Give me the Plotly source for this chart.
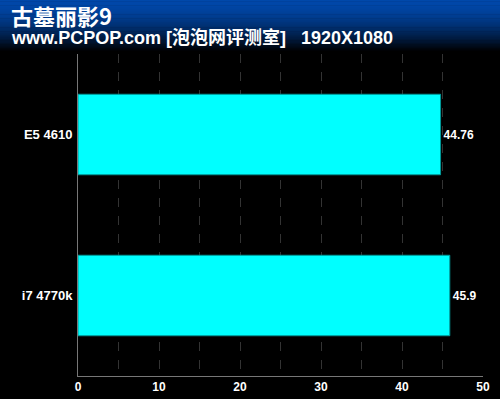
import plotly.graph_objects as go

categories = ["E5 4610", "i7 4770k"]
values = [44.76, 45.9]
value_labels = ["44.76", "45.9"]
title = "古墓丽影9"
subtitle = "www.PCPOP.com [泡泡网评测室]   1920X1080"

L, R, T, B = 78, 17, 54, 23
W, H = 500, 399
pw = W - L - R
ph = H - T - B

fig = go.Figure()
fig.add_trace(go.Bar(
    y=categories, x=values, orientation="h",
    marker=dict(color="#00FFFF", line=dict(color="#009999", width=1)),
    width=0.5,
    text=value_labels, textposition="outside",
    textfont=dict(color="white", size=12, family="Liberation Sans", weight="bold"),
    cliponaxis=False,
))

# header gradient (blue to black)
n = 40
HH = 52.0
shapes = []
for i in range(n):
    t = i / (n - 1)
    f = max(0.0, 1 - t ** 1.6)
    r, g, b = 0, int(72 * f), int(170 * f)
    y_top = i * HH / n
    y_bot = (i + 1) * HH / n + 0.5
    shapes.append(dict(type="rect", xref="paper", yref="paper",
                       x0=-L / pw, x1=(W - L) / pw,
                       y0=(H - B - y_bot) / ph, y1=(H - B - y_top) / ph,
                       fillcolor=f"rgb({r},{g},{b})", line=dict(width=0), layer="below"))

fig.update_layout(
    width=W, height=H,
    margin=dict(l=L, r=R, t=T, b=B, autoexpand=False),
    paper_bgcolor="black", plot_bgcolor="black",
    showlegend=False,
    shapes=shapes,
    xaxis=dict(range=[0, 50], tickvals=[0, 10, 20, 30, 40, 50], automargin=False,
               showgrid=True, gridcolor="#333333", griddash="dash", gridwidth=1,
               minor=dict(dtick=5, showgrid=True, gridcolor="#333333", griddash="dash"),
               showline=True, linecolor="#777777", linewidth=1,
               zeroline=False,
               tickfont=dict(color="white", size=12, family="Liberation Sans", weight="bold"),
               ticks="", fixedrange=True),
    yaxis=dict(autorange="reversed", showline=True, linecolor="#777777", linewidth=1,
               automargin=False,
               showgrid=False, zeroline=False, ticks="", ticklabelstandoff=2,
               tickfont=dict(color="white", size=13, family="Liberation Sans", weight="bold")),
    annotations=[
        dict(text=title, xref="paper", yref="paper", x=-(L - 9) / pw, y=(H - B - 15.5) / ph,
             xanchor="left", yanchor="middle", showarrow=False,
             font=dict(color="white", size=22, family="Noto Sans CJK SC", weight="bold")),
        dict(text=subtitle, xref="paper", yref="paper", x=-(L - 9) / pw, y=(H - B - 38) / ph,
             xanchor="left", yanchor="middle", showarrow=False,
             font=dict(color="white", size=18, family="Liberation Sans, Noto Sans CJK SC", weight="bold")),
    ],
)

fig.write_html("out.html")
